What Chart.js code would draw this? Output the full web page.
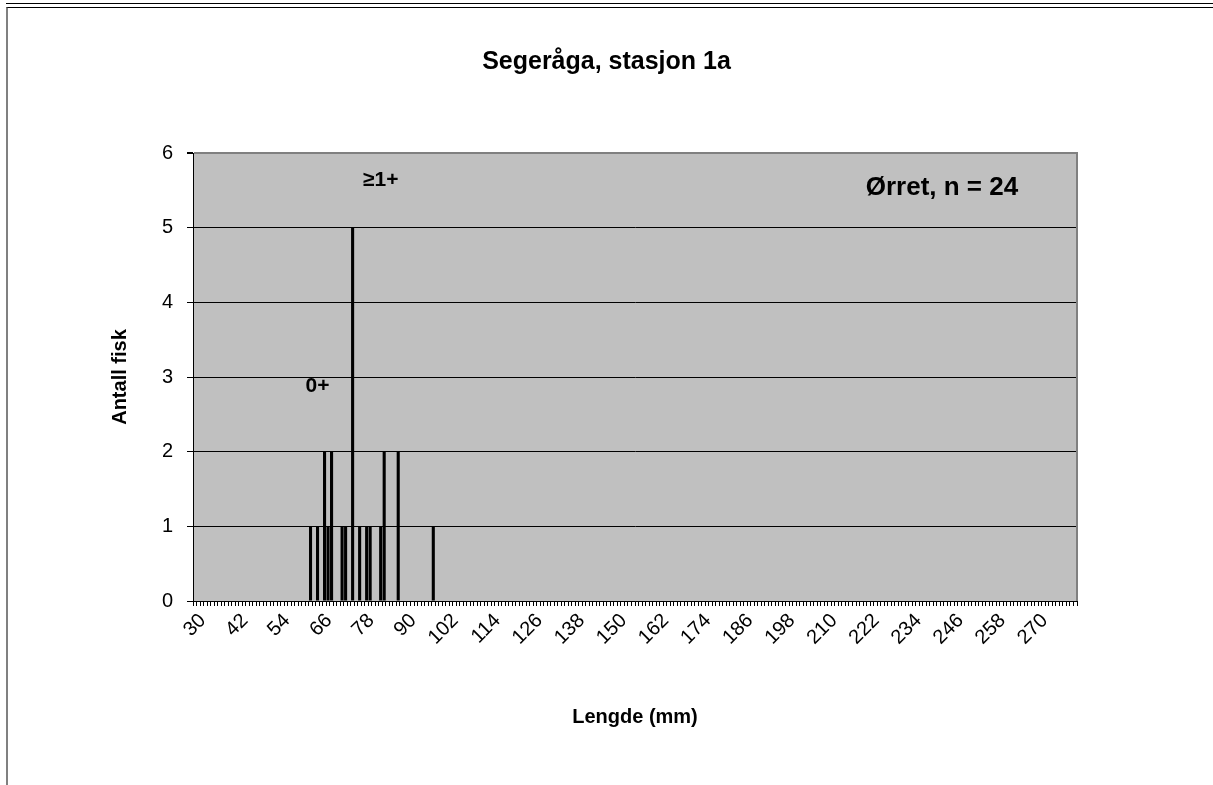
<!DOCTYPE html>
<html>
<head>
<meta charset="utf-8">
<title>Segeråga, stasjon 1a</title>
<script src="https://cdn.jsdelivr.net/npm/chart.js@4"></script>
<style>
  html, body { margin: 0; padding: 0; background: #fff; }
  body { width: 1213px; height: 785px; position: relative; overflow: hidden; }
  #chart { position: absolute; left: 0; top: 0; }
  /* ramme rundt diagrammet */
  .line-top { position: absolute; left: 6px; right: 0; top: 3px; border-top: 1px solid #000; }
  .frame { position: absolute; left: 6px; right: 0; top: 7px; bottom: 0;
           border-top: 1px solid #000; border-left: 2px solid #808080; pointer-events: none; }
</style>
</head>
<body>
<canvas id="chart" width="1213" height="785"></canvas>
<div class="line-top"></div>
<div class="frame"></div>
<script>
// Kategorier: lengde i mm (30 - 281)
const lengths = [];
for (let mm = 30; mm <= 281; mm++) lengths.push(mm);

// Fangst: lengde (mm) og antall fisk
const fishLengths = [63, 65, 67, 68, 69, 72, 73, 75, 77, 79, 80, 83, 84, 88, 98];
const fishCounts  = [ 1,  1,  2,  1,  2,  1,  1,  5,  1,  1,  1,  1,  2,  2,  1];

const yTicks = [0, 1, 2, 3, 4, 5, 6];
const labelStep = 12;

const chartTitle = 'Segeråga, stasjon 1a';

// Tekst i plottet
const notes = [
  { text: '≥1+', mm: 83, y: 5.64, size: 21 },
  { text: '0+', mm: 65, y: 2.88, size: 21 },
  { text: 'Ørret, n = 24', mm: 243, y: 5.53, size: 26 }
];

const counts = lengths.map(mm => {
  const i = fishLengths.indexOf(mm);
  return i >= 0 ? fishCounts[i] : null;
});

const FONT = '"Liberation Sans", Arial, Helvetica, sans-serif';
Chart.defaults.font.family = FONT;
Chart.defaults.color = '#000';

// Grå bakgrunn i plottet + grå kant til høyre
const plotArea = {
  id: 'plotArea',
  beforeDraw(chart) {
    const { ctx, chartArea: a } = chart;
    ctx.save();
    ctx.fillStyle = '#C0C0C0';
    ctx.fillRect(a.left, a.top, a.right - a.left, a.bottom - a.top);
    ctx.restore();
  },
  beforeDatasetsDraw(chart) {
    const { ctx, chartArea: a } = chart;
    ctx.save();
    ctx.strokeStyle = '#808080';
    ctx.lineWidth = 2;
    ctx.beginPath();
    ctx.moveTo(a.right, a.top - 1);
    ctx.lineTo(a.right, a.bottom);
    ctx.stroke();
    ctx.restore();
  }
};

// Tittel sentrert over hele figuren, og tekst i plottet
const textLabels = {
  id: 'textLabels',
  afterDatasetsDraw(chart) {
    const { ctx, scales: { x, y } } = chart;
    ctx.save();
    ctx.fillStyle = '#000';
    ctx.textAlign = 'center';
    ctx.textBaseline = 'middle';
    ctx.font = `bold 25px ${FONT}`;
    ctx.fillText(chartTitle, chart.width / 2, 62);
    notes.forEach(n => {
      ctx.font = `bold ${n.size}px ${FONT}`;
      ctx.fillText(n.text, x.getPixelForValue(lengths.indexOf(n.mm)), y.getPixelForValue(n.y));
    });
    ctx.restore();
  }
};

new Chart(document.getElementById('chart'), {
  type: 'bar',
  data: {
    labels: lengths,
    datasets: [{
      label: 'Antall fisk',
      data: counts,
      backgroundColor: '#000',
      borderWidth: 0,
      barPercentage: 0.88,
      categoryPercentage: 1
    }]
  },
  options: {
    responsive: false,
    animation: false,
    devicePixelRatio: 1,
    layout: { padding: { left: 0, top: 153, right: 136, bottom: 0 } },
    plugins: {
      legend: { display: false },
      tooltip: { enabled: false },
      title: { display: false }
    },
    scales: {
      x: {
        type: 'category',
        offset: true,
        afterFit(scale) { scale.height = 184; },
        border: { display: true, color: '#000', width: 1 },
        grid: {
          offset: true,
          drawOnChartArea: false,
          drawTicks: true,
          tickLength: 5,
          tickColor: '#000'
        },
        ticks: {
          autoSkip: false,
          minRotation: 45,
          maxRotation: 45,
          padding: 3,
          labelOffset: 8,
          font: { size: 20 },
          callback(value) {
            const mm = lengths[value];
            return (mm - lengths[0]) % labelStep === 0 ? String(mm) : '';
          }
        },
        title: {
          display: true,
          text: 'Lengde (mm)',
          font: { size: 20, weight: 'bold' },
          padding: { top: 0, bottom: 56 }
        }
      },
      y: {
        min: yTicks[0],
        max: yTicks[yTicks.length - 1],
        afterFit(scale) { scale.width = 193; },
        afterBuildTicks(scale) { scale.ticks = yTicks.map(v => ({ value: v })); },
        border: { display: true, color: '#000', width: 1 },
        grid: {
          color: c => c.tick && c.tick.value === 6 ? '#808080' : '#000',
          lineWidth: c => c.tick && c.tick.value === 6 ? 2 : 1,
          tickColor: '#000',
          tickLength: 6
        },
        ticks: {
          padding: 14,
          font: { size: 20 }
        },
        title: {
          display: true,
          text: 'Antall fisk',
          font: { size: 20, weight: 'bold' },
          padding: { top: 108, bottom: 0 }
        }
      }
    }
  },
  plugins: [plotArea, textLabels]
});
</script>
</body>
</html>
